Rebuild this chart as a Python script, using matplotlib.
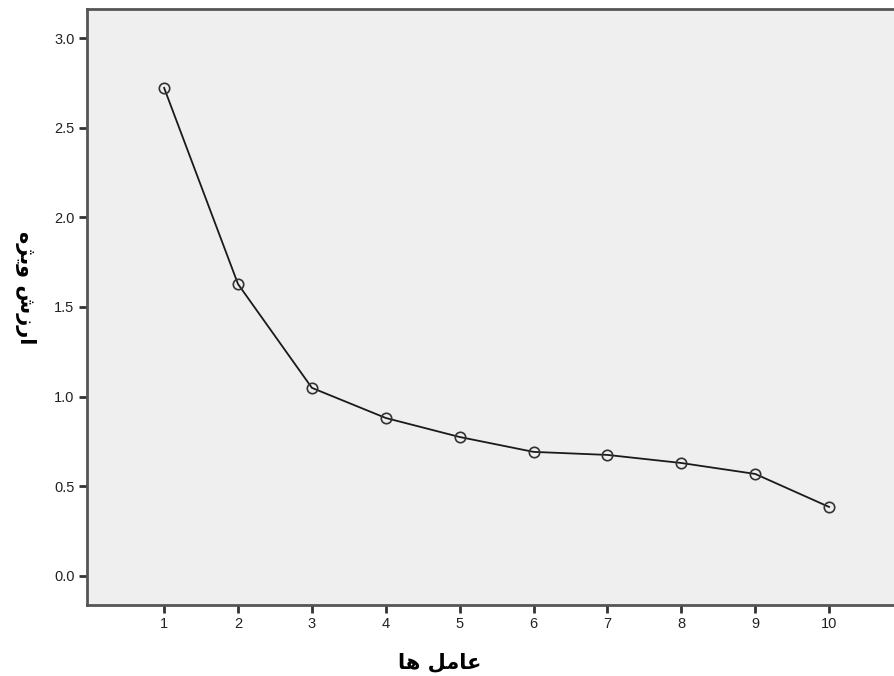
import matplotlib
matplotlib.use("Agg")
import matplotlib.pyplot as plt

factors = [1, 2, 3, 4, 5, 6, 7, 8, 9, 10]
eigenvalues = [2.722, 1.628, 1.049, 0.881, 0.775, 0.692, 0.675, 0.630, 0.569, 0.385]
y_ticks = [0.0, 0.5, 1.0, 1.5, 2.0, 2.5, 3.0]
y_tick_labels = ["0.0", "0.5", "1.0", "1.5", "2.0", "2.5", "3.0"]

# Persian labels written with Arabic presentation forms in visual order
# "عامل ها" and "ارزش ویژه"
x_label = "\uFE8E\uFEEB \uFEDE\uFEE3\uFE8E\uFECB"
y_label = "\uFEE9\uFB8B\uFBFE\uFEED \uFEB5\uFEAF\uFEAD\uFE8D"

plt.rcParams['font.family'] = ['Liberation Sans', 'DejaVu Sans']

fig = plt.figure(figsize=(8.94, 6.76), dpi=100)
ax = fig.add_axes([87/894, 1 - 605/676, 1 - 87/894 + 0.01, (605 - 9)/676])
ax.set_facecolor("#EFEFEF")

ax.plot(factors, eigenvalues, color="#1a1a1a", lw=1.3, marker="o", ms=7.5,
        mfc="none", mec="#333333", mew=1.2)

ax.set_xlim(-0.044, 11.0)
ax.set_ylim(-0.162, 3.162)
ax.set_xticks(factors)
ax.set_xticklabels([str(f) for f in factors])
ax.set_yticks(y_ticks)
ax.set_yticklabels(y_tick_labels)

for s in ["top", "left", "bottom"]:
    ax.spines[s].set_color("#555555")
    ax.spines[s].set_linewidth(2)
ax.spines["right"].set_visible(False)
ax.tick_params(axis="both", direction="out", length=6, width=2, color="#333333",
               labelsize=10.5, labelcolor="#222222", pad=3)

fig.text(440/894, 1 - 662/676, x_label, ha="center", va="center",
         fontsize=15, fontweight="bold", family=["DejaVu Sans"])
fig.text(25/894, 1 - 288/676, y_label, ha="center", va="center", rotation=270,
         fontsize=15, fontweight="bold", family=["DejaVu Sans"])

fig.savefig("out.png", dpi=100, facecolor="white")
